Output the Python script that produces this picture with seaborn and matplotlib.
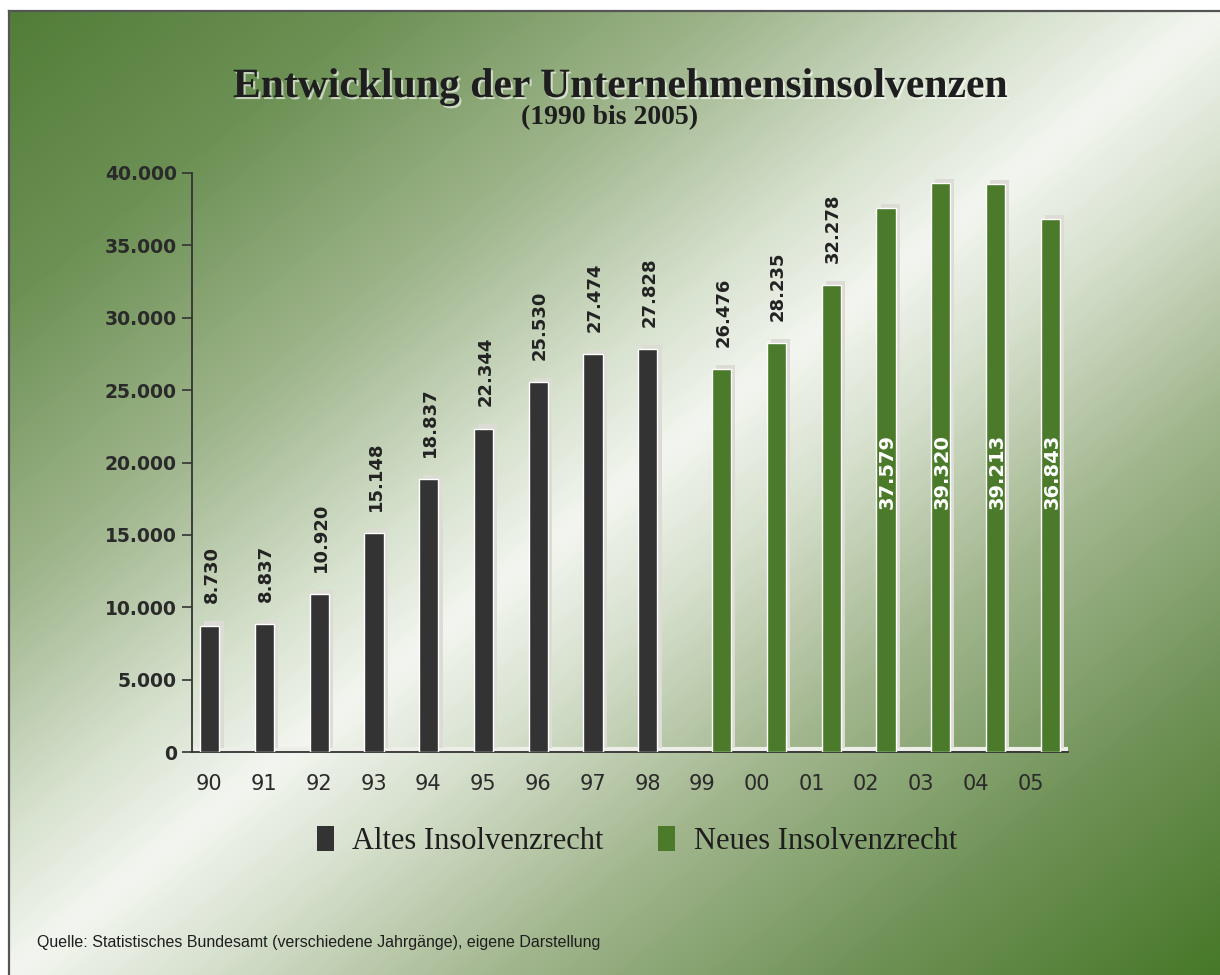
import numpy as np
import pandas as pd
import matplotlib
matplotlib.use("Agg")
import matplotlib.pyplot as plt
import matplotlib.patheffects as pe
import matplotlib.transforms as mtransforms
from matplotlib.colors import LinearSegmentedColormap
from matplotlib.patches import Patch
import seaborn as sns

# ---------------- data ----------------
years = ["90", "91", "92", "93", "94", "95", "96", "97", "98",
         "99", "00", "01", "02", "03", "04", "05"]
values = [8730, 8837, 10920, 15148, 18837, 22344, 25530, 27474, 27828,
          26476, 28235, 32278, 37579, 39320, 39213, 36843]
regime = ["Altes Insolvenzrecht"] * 9 + ["Neues Insolvenzrecht"] * 7
regime_order = ["Altes Insolvenzrecht", "Neues Insolvenzrecht"]
y_ticks = [0, 5000, 10000, 15000, 20000, 25000, 30000, 35000, 40000]

title = "Entwicklung der Unternehmensinsolvenzen"
subtitle = "(1990 bis 2005)"
source = "Quelle: Statistisches Bundesamt (verschiedene Jahrgänge), eigene Darstellung"

df = pd.DataFrame({"Jahr": years, "Insolvenzen": values, "Recht": regime})

def de(v):
    return f"{v:,.0f}".replace(",", ".")

# ---------------- style ----------------
sns.set_theme(style="white")
plt.rcParams["font.family"] = ["DejaVu Sans"]

W, H = 1220, 975
fig = plt.figure(figsize=(W / 100, H / 100), dpi=100)
fig.patch.set_facecolor("white")

# background gradient panel
bg = fig.add_axes([9 / W, 0, 1 - 9 / W, 1 - 11 / H], zorder=-5)
gx = np.linspace(0, 1, 400)
gy = np.linspace(0, 1, 320)
GX, GY = np.meshgrid(gx, gy)
T = (GX + GY) / 2.0
stops = [(0.0, "#527d38"), (0.15, "#6d9155"), (0.3, "#9fb58c"), (0.42, "#d5e0cc"),
         (0.5, "#f3f6f0"), (0.58, "#d6e0cd"), (0.7, "#a3b78f"), (0.85, "#6f9257"),
         (1.0, "#477828")]
cmap = LinearSegmentedColormap.from_list("bg", stops)
bg.imshow(T, cmap=cmap, vmin=0, vmax=1, extent=[0, 1, 0, 1], origin="upper",
          aspect="auto", interpolation="bicubic")
bg.set_xticks([]); bg.set_yticks([])
for s in ["right", "bottom"]:
    bg.spines[s].set_visible(False)
for s in ["top", "left"]:
    bg.spines[s].set_color("#555555")
    bg.spines[s].set_linewidth(1.6)

# main axes
ax = fig.add_axes([192 / W, 1 - 752 / H, (1068 - 192) / W, (752 - 173) / H])
ax.set_facecolor("none")

colors = {"Altes Insolvenzrecht": "#333333", "Neues Insolvenzrecht": "#4a7a2a"}
sns.barplot(data=df, x="Jahr", y="Insolvenzen", hue="Recht", hue_order=regime_order,
            order=years, palette=colors, dodge=True, width=0.7, saturation=1,
            legend=False, ax=ax, zorder=3)

# floor band
ax.axhline(0, color="#eeeee8", lw=3, zorder=1,
           path_effects=[pe.SimpleLineShadow(offset=(2, 2), shadow_color="#eeeee8", alpha=1)])

# 3-D look and value labels
for bar in ax.patches:
    bar.set_path_effects([pe.SimplePatchShadow(offset=(3, 3), shadow_rgbFace="#dcdcd4", alpha=1.0),
                          pe.Normal()])

bars = []
for cont in ax.containers:
    bars.extend(list(cont))
bars.sort(key=lambda b: b.get_x())
for bar, v in zip(bars, values):
    cx = bar.get_x() + bar.get_width() / 2 + 0.03
    if v > 35000:
        ax.text(cx, 19400, de(v), rotation=90, ha="center", va="center",
                color="white", fontsize=14, fontweight="bold", zorder=5)
    else:
        ax.annotate(de(v), (cx, v), xytext=(0, 16), textcoords="offset points",
                    rotation=90, ha="center", va="bottom", color="#222222",
                    fontsize=13, fontweight="bold", zorder=5)

# axes formatting
ax.set_xlim(-0.5, len(years) - 0.5)
ax.set_ylim(0, 40000)
ax.set_yticks(y_ticks)
ax.set_yticklabels([de(t) for t in y_ticks], fontsize=13.5, fontweight="bold", color="#2a2a2a")
ax.set_xticks(range(len(years)))
ax.set_xticklabels(years, fontsize=15, color="#2a2a2a")
ax.set_xticks(np.arange(-0.5, len(years) + 0.5, 1), minor=True)
ax.tick_params(axis="x", which="major", length=0, pad=16)
ax.tick_params(axis="x", which="minor", length=7, width=1.2, color="#333333", direction="out")
ax.tick_params(axis="y", length=7, width=1.2, color="#333333", direction="out", pad=4, left=True)
shift = mtransforms.ScaledTranslation(-10 / 100, 0, fig.dpi_scale_trans)
for lab in ax.get_xticklabels():
    lab.set_transform(lab.get_transform() + shift)
ax.set_xlabel(""); ax.set_ylabel("")
for s in ["top", "right"]:
    ax.spines[s].set_visible(False)
for s in ["left", "bottom"]:
    ax.spines[s].set_color("#333333")
    ax.spines[s].set_linewidth(1.3)
ax.grid(False)

# titles
fig.text(0.508, 1 - 87 / H, title, ha="center", va="center", family="Liberation Serif",
         fontsize=30, fontweight="bold", color="#1e1e1e",
         path_effects=[pe.withSimplePatchShadow(offset=(1.5, -1.5), shadow_rgbFace="#ffffff", alpha=0.6)])
fig.text(0.50, 1 - 118 / H, subtitle, ha="center", va="center", family="Liberation Serif",
         fontsize=20, fontweight="bold", color="#1e1e1e")

# legend
handles = [Patch(facecolor=colors[r], edgecolor="none") for r in regime_order]
fig.legend(handles, regime_order, loc="center", bbox_to_anchor=(0.522, 1 - 841 / H), ncol=2,
           frameon=False, prop={"family": "Liberation Serif", "size": 22},
           handlelength=0.55, handleheight=0.9, columnspacing=1.8, handletextpad=0.6,
           labelcolor="#1e1e1e")

# source
fig.text(37 / W, 1 - 942 / H, source, ha="left", va="center", family="Liberation Sans",
         fontsize=11.5, color="#1e1e1e")

fig.savefig("out.png", dpi=100)
